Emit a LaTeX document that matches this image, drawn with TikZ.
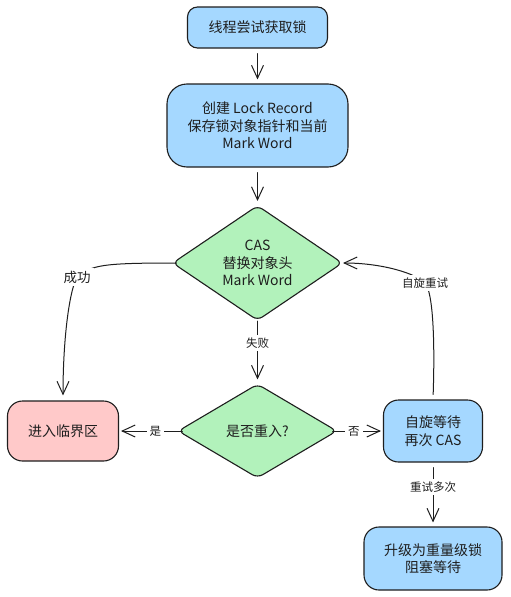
\documentclass[tikz,border=0pt]{standalone}
\usepackage{fontspec}
\setmainfont{Noto Sans CJK SC}
\usetikzlibrary{shapes.geometric,arrows.meta}
\definecolor{ink}{HTML}{1E1E1E}
\definecolor{bluef}{HTML}{A5D8FF}
\definecolor{greenf}{HTML}{B2F2BB}
\definecolor{redf}{HTML}{FFC9C9}
\begin{document}
\begin{tikzpicture}[x=1pt,y=-1pt,
  box/.style={draw=ink, line width=1.1pt, align=center, font=\fontsize{14}{17.5}\selectfont, text=ink, inner sep=0pt},
  dia/.style={box, shape=diamond, fill=greenf, rounded corners=6pt, aspect=1.4},
  arr/.style={draw=ink, line width=1pt, line cap=round, -{Straight Barb[length=13pt,width=12pt,line width=1pt]}, shorten <=5pt, shorten >=4pt},
  lbl/.style={fill=white, text=ink, font=\fontsize{11.5}{13}\selectfont, inner sep=3pt},
]
\useasboundingbox[fill=white] (0,0) rectangle (511,597);

\node[box, fill=bluef, rounded corners=10pt, minimum width=140pt, minimum height=41pt] (n1) at (257.5,27.5) {线程尝试获取锁};
\node[box, fill=bluef, rounded corners=20pt, minimum width=181pt, minimum height=83pt] (n2) at (257.5,125.5) {创建 Lock Record\\保存锁对象指针和当前\\Mark Word};
\node[dia, minimum width=170pt, minimum height=115pt] (d1) at (257.5,263) {CAS\\替换对象头\\Mark Word};
\node[dia, minimum width=159pt, minimum height=94pt] (d2) at (257.5,431) {是否重入?};
\node[box, fill=redf, rounded corners=15pt, minimum width=111pt, minimum height=60pt] (enter) at (63,431) {进入临界区};
\node[box, fill=bluef, rounded corners=15pt, minimum width=99pt, minimum height=62pt] (spin) at (433,431) {自旋等待\\再次 CAS};
\node[box, fill=bluef, rounded corners=15pt, minimum width=138pt, minimum height=63pt] (heavy) at (433,558.5) {升级为重量级锁\\阻塞等待};

\draw[arr] (n1.south) -- (n2.north);
\draw[arr] (n2.south) -- (d1.north);
\draw[arr, shorten <=0pt] (d1.south) -- node[lbl, pos=0.35]{失败} (d2.north);
\draw[arr, shorten <=-5pt, shorten >=2pt] (d2.west) -- node[lbl, pos=0.38]{是} (enter.east);
\draw[arr, shorten <=-5pt, shorten >=2pt] (d2.east) -- node[lbl, pos=0.36]{否} (spin.west);
\draw[arr] (spin.south) -- node[lbl, pos=0.38]{重试多次} (heavy.north);

\draw[arr, shorten <=-4.5pt, shorten >=5pt] (d1.west) .. controls +(-70,0) and +(15,-12) .. (77,277)
  node[lbl, font=\fontsize{13.5}{15}\selectfont]{成功}
  .. controls +(-8,15) and +(0,-60) .. (enter.north);
\draw[arr, shorten <=5pt, shorten >=0pt] (spin.north) .. controls +(2,-60) and +(8,9) .. (425,283)
  node[lbl]{自旋重试}
  .. controls +(-8,-9) and +(40,0) .. (d1.east);
\end{tikzpicture}
\end{document}
